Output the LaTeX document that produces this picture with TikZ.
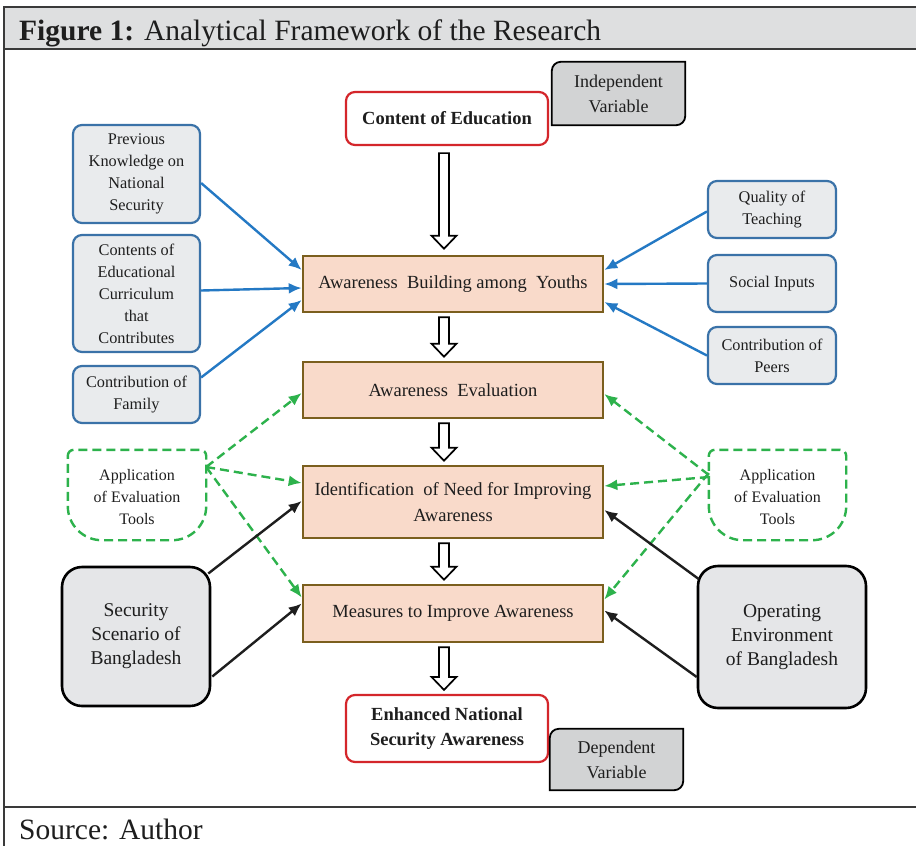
\documentclass[tikz,border=0pt]{standalone}
\usepackage{fontspec}
\setmainfont{Liberation Serif}
\usetikzlibrary{arrows.meta,calc}

\definecolor{framegrey}{HTML}{3A3A3A}
\definecolor{headgrey}{HTML}{DEDFE0}
\definecolor{redline}{HTML}{D4262B}
\definecolor{varfill}{HTML}{D2D3D4}
\definecolor{blueline}{HTML}{3A72A8}
\definecolor{bluearrow}{HTML}{2479C4}
\definecolor{bluefill}{HTML}{E9EBED}
\definecolor{stageline}{HTML}{7B5F1E}
\definecolor{stagefill}{HTML}{F9DACA}
\definecolor{greenline}{HTML}{2DB24C}
\definecolor{greyfill}{HTML}{E5E6E8}
\definecolor{ink}{HTML}{1E1E1E}

\tikzset{
  txt/.style={font=\fontsize{#1}{22}\selectfont, text=ink, align=center, inner sep=0pt},
  vartxt/.style={font=\fontsize{18}{25}\selectfont, text=ink, align=center, inner sep=0pt},
  outcome/.style={draw=redline, line width=2.2pt, rounded corners=9pt, fill=white,
    font=\fontsize{18.5}{25}\selectfont\bfseries, text=ink, align=center, inner sep=0pt},
  varbox/.style={fill=varfill, draw=black, line width=1.8pt},
  inputbox/.style={draw=blueline, line width=2.2pt, rounded corners=9pt, fill=bluefill,
    font=\fontsize{16.3}{22}\selectfont, text=ink, align=center, inner sep=0pt},
  stagebox/.style={draw=stageline, line width=2.6pt, fill=stagefill, minimum width=300pt,
    font=\fontsize{18.5}{26}\selectfont, text=ink, align=center, inner sep=0pt},
  contextbox/.style={draw=black, line width=2.6pt, rounded corners=20pt, fill=greyfill,
    minimum width=148pt, font=\fontsize{19.5}{24}\selectfont, text=ink, align=center, inner sep=0pt},
  toolline/.style={draw=greenline, line width=2.4pt, dash pattern=on 9pt off 5pt, fill=white},
  bluearr/.style={draw=bluearrow, line width=2.4pt, -{Latex[length=13pt,width=11pt]}},
  greenarr/.style={draw=greenline, line width=2.4pt, dash pattern=on 9pt off 5pt,
    -{Latex[length=13pt,width=11pt]}},
  blackarr/.style={draw=ink, line width=2.4pt, -{Latex[length=13pt,width=11pt]}},
  hollow/.style={draw=black, line width=1.7pt, fill=white, line join=miter,
    to path={let \p1=(\tikztostart), \p2=(\tikztotarget) in
      (\x1-5pt,\y1) -- (\x1+5pt,\y1) -- (\x1+5pt,\y2+13pt) -- (\x1+12.5pt,\y2+13pt)
      -- (\x1,\y2) -- (\x1-12.5pt,\y2+13pt) -- (\x1-5pt,\y2+13pt) -- cycle}},
}

\begin{document}
\begin{tikzpicture}[x=1pt,y=1pt]
\useasboundingbox (0,0) rectangle (916,-846);
\fill[white] (0,0) rectangle (916,-846);

% frame and header band
\fill[headgrey] (4,-7) rectangle (916,-49);
\draw[framegrey, line width=1.5pt] (916,-7) -- (4,-7) -- (4,-846);
\draw[framegrey, line width=1.5pt] (4,-49) -- (916,-49);
\draw[framegrey, line width=1.5pt] (4,-807) -- (916,-807);
\node[anchor=base west, inner sep=0pt, text=ink, font=\fontsize{29.5}{32}\selectfont] (title)
  at (19,-40) {\textbf{Figure 1:} Analytical Framework of the Research};
\node[anchor=base west, inner sep=0pt, text=ink, font=\fontsize{29.5}{32}\selectfont] (source)
  at (19,-839) {Source: Author};

% main chain
\node[outcome, minimum width=202pt, minimum height=53pt] (ce) at (447,-118.5) {Content of Education};
\node[stagebox, minimum height=56pt] (ab) at (453,-284) {Awareness\ \ Building\ among\ \ Youths};
\node[stagebox, minimum height=72pt] (id) at (453,-502) {Identification\ \ of Need for Improving\\Awareness};
\node[stagebox, minimum height=56pt] (ae) at (453,-390) {Awareness\ \ Evaluation};
\node[stagebox, minimum height=57pt] (ms) at (453,-613.5) {Measures\ to Improve Awareness};
\node[outcome, minimum width=202pt, minimum height=67pt] (en) at (447,-728.5) {Enhanced National\\Security Awareness};

% variable tags
\node[minimum width=133pt, minimum height=63pt, inner sep=0pt] (iv) at (618.5,-93.5) {};
\draw[varbox] (iv.south west) -- ([yshift=-9pt]iv.north west) arc[start angle=180,end angle=90,radius=9pt]
  -- (iv.north east) -- ([yshift=9pt]iv.south east) arc[start angle=0,end angle=-90,radius=9pt] -- cycle;
\node[vartxt] (ivtext) at (iv.center) {Independent\\Variable};
\node[minimum width=133pt, minimum height=61pt, inner sep=0pt] (dv) at (616.5,-759.5) {};
\draw[varbox] (dv.south west) -- ([yshift=-9pt]dv.north west) arc[start angle=180,end angle=90,radius=9pt]
  -- (dv.north east) -- ([yshift=9pt]dv.south east) arc[start angle=0,end angle=-90,radius=9pt] -- cycle;
\node[vartxt] (dvtext) at (dv.center) {Dependent\\Variable};

% inputs on the left
\node[inputbox, minimum width=127pt, minimum height=98pt] (pk) at (136.5,-174) {Previous\\Knowledge on\\National\\Security};
\node[inputbox, minimum width=127pt, minimum height=117pt] (cc) at (136.5,-293.5) {Contents of\\Educational\\Curriculum\\that\\Contributes};
\node[inputbox, minimum width=127pt, minimum height=57pt] (fa) at (136.5,-394.5) {Contribution of\\Family};

% inputs on the right
\node[inputbox, minimum width=128pt, minimum height=57pt] (qt) at (772,-209.5) {Quality of\\Teaching};
\node[inputbox, minimum width=128pt, minimum height=57pt] (si) at (772,-283.5) {Social Inputs};
\node[inputbox, minimum width=128pt, minimum height=57pt] (cp) at (772,-355.5) {Contribution of\\Peers};

% evaluation tools
\node[minimum width=138pt, minimum height=90pt, inner sep=0pt] (lt) at (137,-495) {};
\node[minimum width=137pt, minimum height=90pt, inner sep=0pt] (rt) at (777.5,-495) {};
\foreach \t in {lt,rt}{
  \draw[toolline] ([yshift=-6pt]\t.north west) arc[start angle=180,end angle=90,radius=6pt]
    -- ([xshift=-6pt]\t.north east) arc[start angle=90,end angle=0,radius=6pt]
    -- ([yshift=34pt]\t.south east) arc[start angle=0,end angle=-90,radius=34pt]
    -- ([xshift=34pt]\t.south west) arc[start angle=270,end angle=180,radius=34pt] -- cycle;
  \node[txt=16] (\t text) at ([yshift=-2pt]\t.center) {Application\\of Evaluation\\Tools};
}

% context boxes
\node[contextbox, minimum height=139pt] (ss) at (136,-636.5) {Security\\Scenario of\\Bangladesh};
\node[contextbox, minimum width=168pt, minimum height=142pt] (op) at (782,-637) {Operating\\Environment\\of Bangladesh};

% hollow flow arrows
\draw[hollow] ([xshift=-3pt,yshift=-7pt]ce.south) to ([yshift=6pt]ab.north);
\draw[hollow] ([xshift=-9pt,yshift=-4pt]ab.south) to ([yshift=4pt]ae.north);
\draw[hollow] ([xshift=-9pt,yshift=-4pt]ae.south) to ([yshift=4pt]id.north);
\draw[hollow] ([xshift=-9pt,yshift=-4pt]id.south) to ([yshift=4pt]ms.north);
\draw[hollow] ([xshift=-9pt,yshift=-4pt]ms.south) to ([yshift=4pt]en.north);

% blue input arrows
\draw[bluearr] ([yshift=-9pt]pk.east) -- ([yshift=14pt]ab.west);
\draw[bluearr] ([yshift=3pt]cc.east) -- ([yshift=-4pt]ab.west);
\draw[bluearr] ([yshift=17pt]fa.east) -- ([yshift=-16pt]ab.west);
\draw[bluearr] ([yshift=-2pt]qt.west) -- ([yshift=14pt]ab.east);
\draw[bluearr] (si.west) -- (ab.east);
\draw[bluearr] (cp.west) -- ([yshift=-18pt]ab.east);

% green evaluation arrows
\draw[greenarr] ([yshift=28pt]lt.east) -- ([yshift=-3pt]ae.west);
\draw[greenarr] ([yshift=28pt]lt.east) -- ([yshift=19pt]id.west);
\draw[greenarr] ([yshift=28pt]lt.east) -- ([yshift=16pt]ms.west);
\draw[greenarr] ([yshift=20pt]rt.west) -- ([yshift=-4pt]ae.east);
\draw[greenarr] ([yshift=18pt]rt.west) -- ([yshift=16pt]id.east);
\draw[greenarr] ([yshift=22pt]rt.west) -- ([yshift=14pt]ms.east);

% black context arrows
\draw[blackarr] ([xshift=-3pt,yshift=63pt]ss.east) -- ([yshift=1pt]id.west);
\draw[blackarr] ([xshift=1pt,yshift=-40pt]ss.east) -- ([yshift=10pt]ms.west);
\draw[blackarr] ([xshift=2pt,yshift=58pt]op.west) -- ([yshift=-8pt]id.east);
\draw[blackarr] ([yshift=-40pt]op.west) -- ([yshift=3pt]ms.east);
\end{tikzpicture}
\end{document}
